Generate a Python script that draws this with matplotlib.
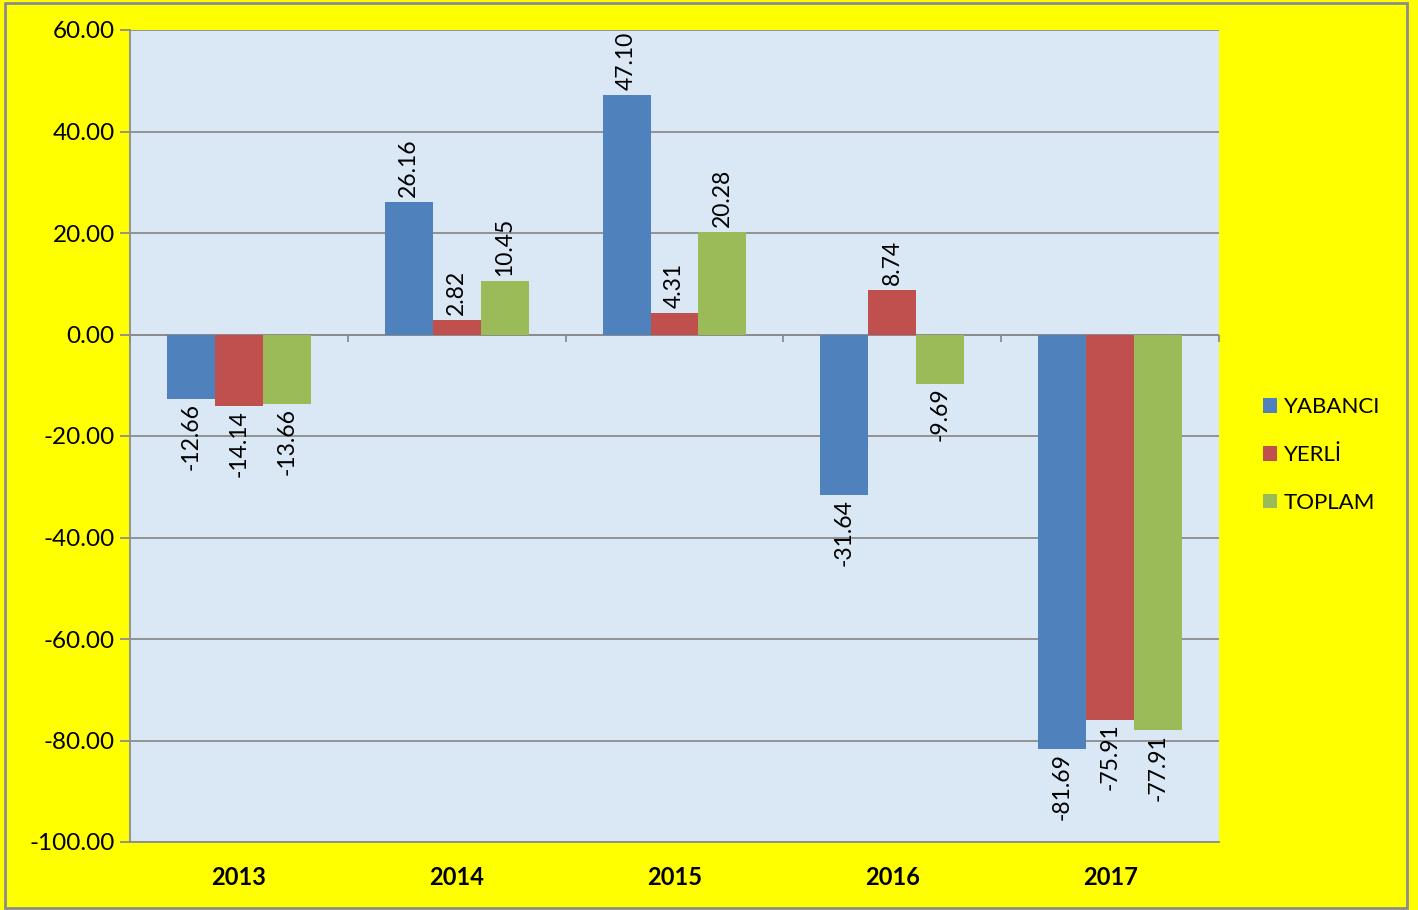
import numpy as np
import matplotlib
matplotlib.use("Agg")
import matplotlib.pyplot as plt
from matplotlib.patches import Rectangle, Patch

# ── data ──────────────────────────────────────────────────────────────────────
YEARS    = ["2013", "2014", "2015", "2016", "2017"]
YABANCI  = [-12.66, 26.16, 47.10, -31.64, -81.69]
YERLI    = [-14.14, 2.82, 4.31, 8.74, -75.91]
TOPLAM   = [-13.66, 10.45, 20.28, -9.69, -77.91]
SERIES   = ["YABANCI", "YERLİ", "TOPLAM"]
Y_TICKS  = [-100, -80, -60, -40, -20, 0, 20, 40, 60]
# ──────────────────────────────────────────────────────────────────────────────

COLORS  = ["#4F81BD", "#C0504D", "#9BBB59"]
YELLOW  = "#FFFF00"
GRID    = "#8c8c8c"
PLOT_BG = "#dae7f5"
BAR_W   = 0.22

plt.rcParams["font.family"] = ["Lato", "DejaVu Sans"]

fig = plt.figure(figsize=(14.18, 9.10), dpi=100, facecolor=YELLOW)
ax = fig.add_axes([130 / 1418, 1 - 842 / 910, 1089 / 1418, 812 / 910])
ax.set_facecolor(PLOT_BG)

x = np.arange(len(YEARS))
offsets = [-BAR_W, 0, BAR_W]
for vals, off, col, name in zip([YABANCI, YERLI, TOPLAM], offsets, COLORS, SERIES):
    ax.bar(x + off, vals, width=BAR_W, color=col, zorder=3, label=name)
    for xi, v in zip(x + off, vals):
        if v >= 0:
            ax.annotate(f"{v:.2f}", (xi, v), xytext=(0, 5), textcoords="offset pixels",
                        rotation=90, ha="center", va="bottom", fontsize=16.5, zorder=4)
        else:
            ax.annotate(f"{v:.2f}", (xi, v), xytext=(0, -4), textcoords="offset pixels",
                        rotation=90, ha="center", va="top", fontsize=16.5, zorder=4)

ax.set_xlim(-0.5, len(YEARS) - 0.5)
ax.set_ylim(-100, 60)
ax.set_yticks(Y_TICKS)
ax.set_yticklabels([f"{t:.2f}" for t in Y_TICKS], fontsize=17.5)
ax.yaxis.grid(True, color=GRID, linewidth=1.3, zorder=1)
ax.set_axisbelow(True)
ax.tick_params(axis="y", length=7, width=1.3, color=GRID, pad=4)

ax.set_xticks(x)
ax.set_xticklabels(YEARS, fontsize=17, fontweight="bold")
ax.tick_params(axis="x", length=0, pad=17)

for side in ["top", "right", "bottom"]:
    ax.spines[side].set_visible(False)
ax.spines["left"].set_color(GRID)
ax.spines["left"].set_linewidth(1.3)

# horizontal axis at zero with category boundary ticks
ax.axhline(0, color=GRID, linewidth=1.3, zorder=2)
ax.vlines(np.arange(len(YEARS) + 1) - 0.5, 0, -1.4, color=GRID, linewidth=1.3,
          clip_on=False, zorder=2)
ax.axhline(-100, color=GRID, linewidth=1.3, zorder=2, clip_on=False)

handles = [Patch(facecolor=c, edgecolor="none") for c in COLORS]
fig.legend(handles, SERIES, loc="center left", bbox_to_anchor=(1243 / 1418, 1 - 455 / 910),
           frameon=False, fontsize=16, handlelength=0.65, handleheight=0.65,
           handletextpad=0.3, labelspacing=1.25)

# outer border
fig.patches.append(Rectangle((5 / 1418, 2 / 910), 1402 / 1418, 905 / 910,
                             transform=fig.transFigure, fill=False,
                             edgecolor="#8c8c8c", linewidth=2))

fig.savefig("out.png", dpi=100, facecolor=YELLOW)
